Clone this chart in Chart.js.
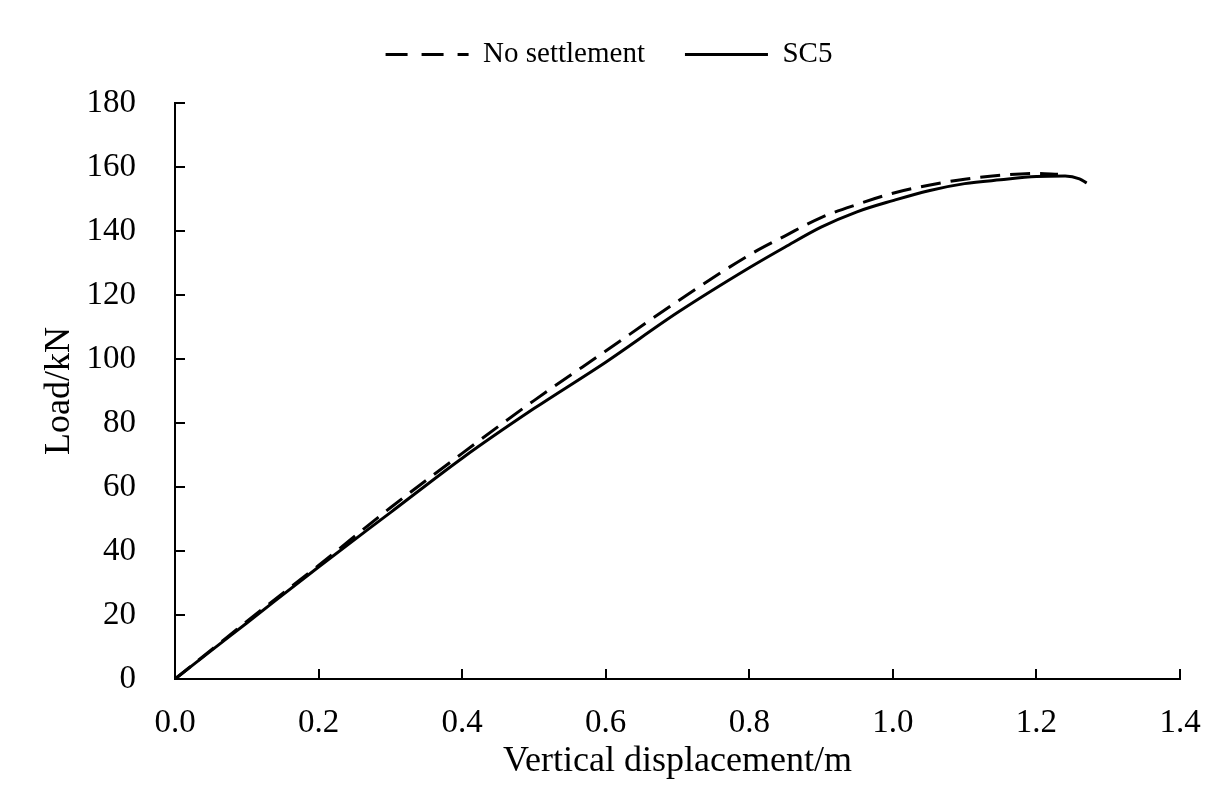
<!DOCTYPE html>
<html>
<head>
<meta charset="utf-8">
<script src="https://cdn.jsdelivr.net/npm/chart.js@4"></script>
<style>
  body { margin: 0; background: #fff; }
  #wrap { width: 1227px; height: 804px; position: relative; }
</style>
</head>
<body>
<div id="wrap"><canvas id="chart"></canvas></div>
<script>
// Load-displacement curves
const noSettleDisp = [0, 0.05, 0.1, 0.2, 0.3, 0.4, 0.5, 0.6, 0.7, 0.8, 0.85, 0.9, 0.95, 1.0, 1.05, 1.1, 1.15, 1.2, 1.23];
const noSettleLoad = [0, 9, 18, 35.5, 53.5, 70.5, 87, 102.5, 118, 132.5, 138.5, 144.2, 148.3, 151.8, 154.3, 156.2, 157.4, 158, 157.7];

const sc5Disp = [0, 0.05, 0.1, 0.2, 0.3, 0.4, 0.5, 0.6, 0.7, 0.8, 0.85, 0.9, 0.95, 1.0, 1.05, 1.1, 1.15, 1.2, 1.24, 1.26, 1.27];
const sc5Load = [0, 8.8, 17.5, 35, 52, 69, 84.5, 99, 114.5, 128.5, 135, 141.2, 146, 149.5, 152.6, 154.8, 156, 157, 157.2, 156.3, 155];

const seriesLabels = ['No settlement', 'SC5'];
const xTitle = 'Vertical displacement/m';
const yTitle = 'Load/kN';

const toPoints = (xs, ys) => xs.map((x, i) => ({ x: x, y: ys[i] }));

Chart.defaults.font.family = "'Liberation Serif', 'Times New Roman', serif";
Chart.defaults.color = '#000';

// legend sits above the plot; stretch its box so the plot starts lower
const legendHeightFix = {
    id: 'legendHeightFix',
    beforeLayout(chart) {
        const lg = chart.legend;
        if (lg && !lg._fixed) {
            const fit = lg.fit;
            lg.fit = function () { fit.call(this); this.height = 103; };
            lg._fixed = true;
        }
    }
};

new Chart(document.getElementById('chart'), {
    type: 'line',
    data: {
        datasets: [{
            label: seriesLabels[0],
            data: toPoints(noSettleDisp, noSettleLoad),
            borderColor: '#000',
            backgroundColor: '#000',
            borderWidth: 3,
            borderDash: [20, 10],
            pointRadius: 0,
            cubicInterpolationMode: 'monotone',
            fill: false
        }, {
            label: seriesLabels[1],
            data: toPoints(sc5Disp, sc5Load),
            borderColor: '#000',
            backgroundColor: '#000',
            borderWidth: 3,
            pointRadius: 0,
            cubicInterpolationMode: 'monotone',
            fill: false
        }]
    },
    options: {
        responsive: true,
        maintainAspectRatio: false,
        animation: false,
        layout: { padding: { left: 38, right: 47, top: 0, bottom: 0 } },
        plugins: {
            tooltip: { enabled: false },
            legend: {
                position: 'top',
                labels: {
                    usePointStyle: true,
                    pointStyle: 'line',
                    pointStyleWidth: 83,
                    padding: 40,
                    color: '#000',
                    font: { size: 29, lineHeight: 1 },
                    generateLabels: chart => {
                        const items = Chart.defaults.plugins.legend.labels.generateLabels(chart);
                        items.forEach(item => {
                            const ds = chart.data.datasets[item.datasetIndex];
                            item.lineDash = ds.borderDash ? [22, 14] : [];
                            item.lineWidth = 3;
                            item.strokeStyle = '#000';
                        });
                        return items;
                    }
                }
            }
        },
        scales: {
            x: {
                type: 'linear',
                min: 0,
                max: 1.4,
                afterFit: s => { s.height = 125; s.paddingLeft = 0; s.paddingRight = 0; },
                ticks: {
                    stepSize: 0.2,
                    padding: 35,
                    color: '#000',
                    font: { size: 33 },
                    callback: v => v.toFixed(1)
                },
                grid: { drawOnChartArea: false, color: '#000', lineWidth: 2, tickLength: -10 },
                border: { color: '#000', width: 2 },
                title: {
                    display: true,
                    text: xTitle,
                    color: '#000',
                    font: { size: 36 },
                    padding: { top: 0, bottom: 21 }
                }
            },
            y: {
                min: 0,
                max: 180,
                afterFit: s => { s.width = 137; },
                ticks: {
                    stepSize: 20,
                    padding: 49,
                    color: '#000',
                    font: { size: 33 }
                },
                grid: { drawOnChartArea: false, color: '#000', lineWidth: 2, tickLength: -10 },
                border: { color: '#000', width: 2 },
                title: {
                    display: true,
                    text: yTitle,
                    color: '#000',
                    font: { size: 36 },
                    padding: { top: 0, bottom: 0 }
                }
            }
        }
    },
    plugins: [legendHeightFix]
});
</script>
</body>
</html>
